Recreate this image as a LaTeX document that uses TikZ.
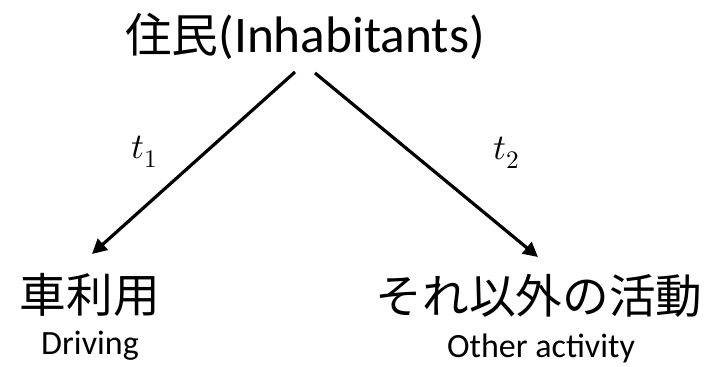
\documentclass[tikz,border=0pt]{standalone}
\usepackage{fontspec}
\usepackage{unicode-math}
\setmainfont{Carlito}
\setmathfont{Latin Modern Math}
\newfontfamily\cjk{Noto Sans CJK JP}
\usetikzlibrary{calc,positioning,arrows.meta}
\definecolor{inkcol}{HTML}{000000}
\tikzset{
  headtxt/.style  = {inner sep=0pt, anchor=base, text=inkcol,
                     font=\fontsize{38.5}{44}\selectfont},
  jptxt/.style    = {inner sep=0pt, anchor=base, text=inkcol,
                     font=\cjk\fontsize{35}{42}\selectfont},
  entxt/.style    = {inner sep=0pt, anchor=base, text=inkcol,
                     font=\fontsize{25.5}{30}\selectfont},
  ratetxt/.style  = {inner sep=0pt, text=inkcol,
                     font=\fontsize{27}{32}\selectfont},
  flow/.style     = {-{Triangle[length=11pt, width=11pt]}, draw=inkcol,
                     line width=2.4pt},
}

\begin{document}
\begin{tikzpicture}[x=0.75pt, y=-0.75pt]
    \useasboundingbox (0,0) rectangle (711,367);

    % source
    \node[headtxt] (resid) at (305,53) {{\cjk\fontsize{35}{42}\selectfont 住民}(Inhabitants)};

    % targets
    \node[jptxt] (car)   at (90,312)  {車利用};
    \node[entxt] (carEn) at (90,354)  {Driving};
    \node[jptxt] (other)   at (539,313) {それ以外の活動};
    \node[entxt] (otherEn) at (541,357) {Other activity};

    % arrow ends
    \coordinate (carTop)   at (92,254);
    \coordinate (otherTop) at (538,257);
    \coordinate (residL) at ($(resid.base)+(-10,19)$);
    \coordinate (residR) at ($(resid.base)+(10,20)$);

    \draw[flow] (residL) -- (carTop);
    \draw[flow] (residR) -- (otherTop);

    % rates
    \node[ratetxt] (rateA) at (145,152) {$t_1$};
    \node[ratetxt] (rateB) at (507,153) {$t_2$};
  \end{tikzpicture}
\end{document}
